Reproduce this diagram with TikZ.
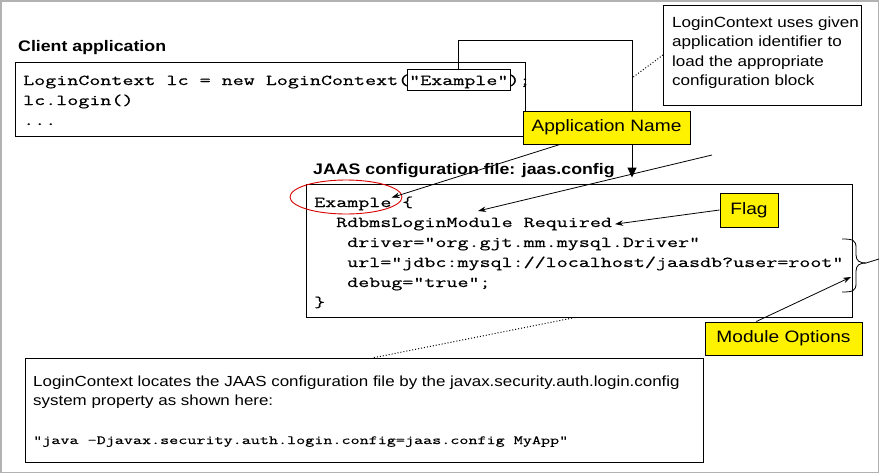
\documentclass[tikz,border=0pt]{standalone}
\usepackage{fontspec}
\setmainfont{Liberation Sans}[FakeStretch=1.16]
\setmonofont{Latin Modern Mono}[FakeStretch=1.42, FakeBold=0.6]
\usetikzlibrary{arrows.meta,shapes.geometric}
\begin{document}
\begin{tikzpicture}[x=1pt,y=-1pt,
  box/.style={draw=black, line width=1pt, inner sep=0pt},
  ybox/.style={draw=black, fill=yellow, line width=1pt, inner sep=0pt, font=\fontsize{16.5}{20}\selectfont},
  txt/.style={anchor=base west, inner sep=0pt},
  hdr/.style={txt, font=\fontsize{15.3}{18}\selectfont\bfseries},
  code/.style={txt, font=\ttfamily\fontsize{15.08}{18}\selectfont},
  bcode/.style={txt, font=\ttfamily\fontsize{12.4}{16}\selectfont},
  note/.style={txt, font=\fontsize{14.7}{18}\selectfont},
  btext/.style={txt, font=\fontsize{14.6}{18}\selectfont},
  ptr/.style={line width=0.8pt, -{Stealth[length=8pt,width=5.5pt]}},
  bigptr/.style={line width=1pt, -{Triangle[length=10pt,width=9pt]}},
  dots/.style={line width=1pt, dotted},
]
\useasboundingbox (0,0) rectangle (880,474);
\fill[white] (0,0) rectangle (880,474);
\draw[gray!60, line width=1.5pt] (1,1) rectangle (878.5,472.5);

% client application
\node[hdr] (clienthdr) at (18,51) {Client application};
\node[box, minimum width=510pt, minimum height=74pt] (client) at (270,99) {};
\node[code] (c1) at (23,85) {LoginContext lc = new LoginContext("Example");};
\node[code] (c2) at (23,105) {lc.login()};
\node[code] (c3) at (23,125) {...};
\node[box, minimum width=103pt, minimum height=21pt] (exbox) at (458.5,79.5) {};

% note box
\node[box, minimum width=198pt, minimum height=100pt] (note) at (762.5,55) {};
\node[note] (n1) at (672,27) {LoginContext uses given};
\node[note] (n2) at (672,46.5) {application identifier to};
\node[note] (n3) at (672,66) {load the appropriate};
\node[note] (n4) at (672,85.5) {configuration block};

% JAAS configuration file
\node[hdr] (jaashdr) at (313,174) {JAAS configuration file: jaas.config};
\node[box, minimum width=546pt, minimum height=133pt] (jaas) at (579,250.5) {};
\node[code] (j1) at (314,207) {Example};
\node[code] (j1b) at (402,207) {\{};
\node[code] (j2) at (336,227) {RdbmsLoginModule Required};
\node[code] (j3) at (347,247) {driver="org.gjt.mm.mysql.Driver"};
\node[code] (j4) at (347,267) {url="jdbc:mysql://localhost/jaasdb?user=root"};
\node[code] (j5) at (347,287) {debug="true";};
\node[code] (j6) at (314,307) {\}};
\node[draw=red!85!black, line width=0.9pt, ellipse, minimum width=112pt, minimum height=34pt, inner sep=0pt] (oval) at (346,197) {};

% bottom box
\node[box, minimum width=678pt, minimum height=104pt] (bottom) at (364,410.5) {};
\node[btext] (b1) at (33,386) {LoginContext locates the JAAS configuration file by the javax.security.auth.login.config};
\node[btext] (b2) at (33,405) {system property as shown here:};
\node[bcode] (b3) at (33,444) {"java -Djavax.security.auth.login.config=jaas.config MyApp"};

% coordinates
\coordinate (turn) at (632,40);
\coordinate (vdot) at (632,78);
\coordinate (blankfrom) at (712,155);
\coordinate (blanktip) at (478,211);
\coordinate (optstip) at (851,277);

% connectors
\draw[bigptr] (exbox.north) |- (turn) -- (turn |- jaas.north) [shorten >=6pt];
\draw[dots] (note.west) -- (vdot);
\draw[ptr] (blankfrom) -- (blanktip);
\draw[dots] ([xshift=-4pt]jaas.south) -- ([xshift=8pt]bottom.north);

% brace
\draw[line width=0.8pt] (842,239) .. controls (853,239) and (856,240) .. (856,248)
  -- (856,255) .. controls (856,261) and (860,263) .. (866,263) -- (879,259);
\draw[line width=0.8pt] (842,292) .. controls (853,292) and (856,291) .. (856,283)
  -- (856,271) .. controls (856,265) and (860,263) .. (866,263);

% yellow labels
\node[ybox, minimum width=167pt, minimum height=33pt] (appname) at (606.5,127.5) {Application Name};
\node[ybox, minimum width=58pt, minimum height=34pt] (flag) at (749,210) {Flag};
\node[ybox, minimum width=157pt, minimum height=33pt] (modopt) at (783.5,338.5) {Module Options};

\draw[ptr] (appname.200) -- (j1.north east);
\draw[ptr] (flag.west) -- ([xshift=3pt]j2.east);
\draw[ptr] (modopt.148) -- (optstip);
\end{tikzpicture}
\end{document}
